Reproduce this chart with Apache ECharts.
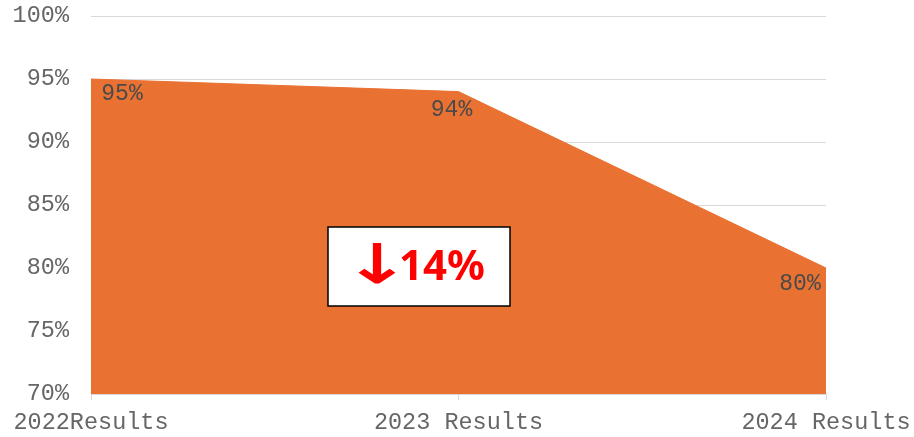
<!DOCTYPE html>
<html>
<head>
<meta charset="utf-8">
<script src="https://cdn.jsdelivr.net/npm/echarts@6/dist/echarts.min.js"></script>
<style>
  html, body { margin: 0; padding: 0; background: #fff; }
  #chart { width: 914px; height: 437px; }
</style>
</head>
<body>
<div id="chart"></div>
<script>
// 数据
const categories = ['2022Results', '2023 Results', '2024 Results']
const values = [95, 94, 80]
const labelOffsets = [[31, -2], [-7, 2], [-26, -1]]
const changeArrow = '↓'
const changeValue = '14%'

const FONT = '"Liberation Mono", "Courier New", monospace'

let chart = echarts.init(document.getElementById('chart'))

let option = {
    animation: false,
    grid: {
        left: 91,
        right: 88,
        top: 16,
        bottom: 43,
        containLabel: false
    },
    xAxis: {
        type: 'category',
        data: categories,
        boundaryGap: false,
        axisLine: { lineStyle: { color: '#d9d9d9', width: 1 } },
        axisTick: { show: true, length: 6, lineStyle: { color: '#d9d9d9' } },
        axisLabel: {
            margin: 17,
            color: '#666666',
            fontFamily: FONT,
            fontSize: 23.5
        },
        splitLine: { show: false }
    },
    yAxis: {
        type: 'value',
        min: 70,
        max: 100,
        interval: 5,
        axisLine: { show: false },
        axisTick: { show: false },
        axisLabel: {
            margin: 22,
            color: '#666666',
            fontFamily: FONT,
            fontSize: 23.5,
            formatter: '{value}%'
        },
        splitLine: { lineStyle: { color: '#d9d9d9', width: 1 } }
    },
    series: [{
        type: 'line',
        data: values.map((v, i) => ({
            value: v,
            label: { offset: labelOffsets[i] }
        })),
        showSymbol: true,
        symbol: 'circle',
        symbolSize: 0,
        itemStyle: { color: '#E97132' },
        lineStyle: { color: '#E97132', width: 1 },
        areaStyle: { color: '#E97132', opacity: 1, origin: 'start' },
        label: {
            show: true,
            position: 'bottom',
            distance: 5,
            color: '#4a4a4a',
            fontFamily: FONT,
            fontSize: 23,
            formatter: '{c}%'
        },
        z: 3
    }],
    graphic: [{
        type: 'rect',
        z: 100,
        shape: { x: 328, y: 227, width: 182, height: 79 },
        style: { fill: '#ffffff', stroke: '#000000', lineWidth: 1.5 }
    }, {
        // 箭头
        type: 'text',
        z: 101,
        x: 377,
        y: 269,
        scaleX: 1.5,
        style: {
            text: changeArrow,
            fill: '#ff0000',
            stroke: '#ff0000',
            lineWidth: 1,
            fontSize: 54,
            fontFamily: '"DejaVu Sans", sans-serif',
            align: 'center',
            verticalAlign: 'middle'
        }
    }, {
        type: 'text',
        z: 101,
        x: 399,
        y: 268,
        style: {
            text: changeValue,
            fill: '#ff0000',
            fontSize: 42,
            fontWeight: 'bold',
            fontFamily: '"Noto Sans", "Liberation Sans", sans-serif',
            align: 'left',
            verticalAlign: 'middle'
        }
    }]
}

chart.setOption(option)
</script>
</body>
</html>
